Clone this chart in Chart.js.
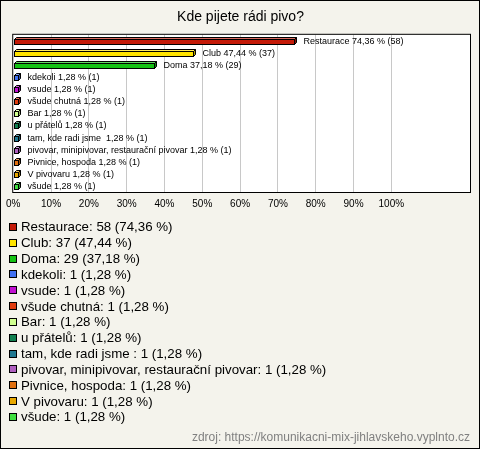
<!DOCTYPE html>
<html>
<head>
<meta charset="utf-8">
<script src="https://cdn.jsdelivr.net/npm/chart.js@4"></script>
<style>
  html, body { margin: 0; padding: 0; }
  body { width: 480px; height: 449px; position: relative; overflow: hidden; font-family: "Liberation Sans", Arial, sans-serif; }
  #chart { position: absolute; left: 0; top: 0; }
  .legend { position: absolute; left: 9px; top: 219px; }
  .legend .row { height: 15.83px; display: flex; align-items: center; font-size: 13.3px; color: #000; white-space: pre; }
  .legend .box { width: 8px; height: 8px; box-sizing: border-box; border: 1px solid #000; margin-right: 4px; flex: none; }
  .source { position: absolute; right: 10px; top: 430px; font-size: 12px; color: #808080; }
</style>
</head>
<body>
<canvas id="chart" width="480" height="449"></canvas>
<div class="legend" id="legend"></div>
<div class="source">zdroj: https://komunikacni-mix-jihlavskeho.vyplnto.cz</div>
<script>
// answers and counts
let labels = ["Restaurace", "Club", "Doma", "kdekoli", "vsude", "všude chutná", "Bar", "u přátelů", "tam, kde radi jsme ", "pivovar, minipivovar, restaurační pivovar", "Pivnice, hospoda", "V pivovaru", "všude"];
let counts = [58, 37, 29, 1, 1, 1, 1, 1, 1, 1, 1, 1, 1];
let percents = [74.36, 47.44, 37.18, 1.28, 1.28, 1.28, 1.28, 1.28, 1.28, 1.28, 1.28, 1.28, 1.28];
let colors = ["#c41a08", "#ffe400", "#14c214", "#4070f0", "#c010d0", "#e03c10", "#d0ff90", "#108050", "#207890", "#b060c0", "#e07010", "#e8a800", "#40e040"];
let tickLabels = ["0%", "10%", "20%", "30%", "40%", "50%", "60%", "70%", "80%", "90%", "100%"];

let fmt = (v) => v.toFixed(2).replace(".", ",");

//legend as html
let legend = document.getElementById("legend");
labels.forEach((l, i) => {
  let row = document.createElement("div");
  row.className = "row";
  row.innerHTML = `<span class="box" style="background:${colors[i]}"></span><span>${l}: ${counts[i]} (${fmt(percents[i])} %)</span>`;
  legend.appendChild(row);
});

let shade = (hex, f) => {
  let n = parseInt(hex.slice(1), 16);
  let r = (n >> 16) & 255, g = (n >> 8) & 255, b = n & 255;
  let m = (c) => Math.round(f > 0 ? c + (255 - c) * f : c * (1 + f));
  return `rgb(${m(r)},${m(g)},${m(b)})`;
};

//background, frame and 3d bars
let frame = {
  id: "frame",
  beforeDraw(chart) {
    let ctx = chart.ctx;
    let a = chart.chartArea;
    ctx.save();
    ctx.fillStyle = "#f4f3ec";
    ctx.fillRect(0, 0, chart.width, chart.height);
    ctx.strokeStyle = "#000";
    ctx.lineWidth = 1;
    ctx.strokeRect(0.5, 0.5, chart.width - 1, chart.height - 1);
    ctx.fillStyle = "#fff";
    ctx.fillRect(a.left, a.top, a.right - a.left, a.bottom - a.top);
    ctx.restore();
  },
  afterDraw(chart) {
    let ctx = chart.ctx;
    let a = chart.chartArea;
    ctx.save();
    ctx.strokeStyle = "#000";
    ctx.lineWidth = 1;
    ctx.strokeRect(a.left - 0.5, a.top - 0.5, a.right - a.left + 1, a.bottom - a.top + 1);

    let d = 2;
    chart.getDatasetMeta(0).data.forEach((bar, i) => {
      let x0 = Math.round(bar.base) + 0.5;
      let x1 = Math.round(bar.x) + 0.5;
      let top = Math.round(bar.y - bar.height / 2 + d / 2) + 0.5;
      let bottom = top + bar.height - 1;
      ctx.lineWidth = 1;
      ctx.strokeStyle = "#000";
      // top face
      ctx.beginPath();
      ctx.moveTo(x0, top);
      ctx.lineTo(x0 + d, top - d);
      ctx.lineTo(x1 + d, top - d);
      ctx.lineTo(x1, top);
      ctx.closePath();
      ctx.fillStyle = shade(colors[i], 0.35);
      ctx.fill();
      ctx.stroke();
      // side face
      ctx.beginPath();
      ctx.moveTo(x1, top);
      ctx.lineTo(x1 + d, top - d);
      ctx.lineTo(x1 + d, bottom - d);
      ctx.lineTo(x1, bottom);
      ctx.closePath();
      ctx.fillStyle = shade(colors[i], -0.3);
      ctx.fill();
      ctx.stroke();
      // front face
      ctx.fillStyle = colors[i];
      ctx.fillRect(x0, top, x1 - x0, bottom - top);
      ctx.strokeRect(x0, top, x1 - x0, bottom - top);

      ctx.fillStyle = "#000";
      ctx.font = "9px 'Liberation Sans', Arial, sans-serif";
      ctx.textBaseline = "middle";
      ctx.fillText(`${labels[i]} ${fmt(percents[i])} % (${counts[i]})`, x1 + d + 7, bar.y + 0.5);
    });
    ctx.restore();
  },
};

let chart = new Chart(document.getElementById("chart"), {
  type: "bar",
  data: {
    labels: labels,
    datasets: [
      {
        data: percents,
        backgroundColor: "rgba(0,0,0,0)",
        borderWidth: 0,
        barThickness: 6,
      },
    ],
  },
  plugins: [frame],
  options: {
    indexAxis: "y",
    responsive: false,
    animation: false,
    layout: { padding: { left: 11, right: 10, top: 9, bottom: 233 } },
    plugins: {
      legend: { display: false },
      tooltip: { enabled: false },
      title: {
        display: true,
        text: "Kde pijete rádi pivo?",
        color: "#000",
        font: { family: "'Liberation Sans', Arial, sans-serif", size: 14, weight: "normal" },
        padding: { top: 0, bottom: 9 },
      },
    },
    scales: {
      x: {
        min: 0,
        max: 120.8,
        border: { display: false },
        grid: {
          drawTicks: false,
          color: (c) => (c.tick && c.tick.value > 0 && c.tick.value <= 100 ? "#c8c8c8" : "rgba(0,0,0,0)"),
        },
        ticks: {
          stepSize: 10,
          padding: 6,
          color: "#000",
          maxRotation: 0,
          autoSkip: false,
          font: { family: "'Liberation Sans', Arial, sans-serif", size: 10 },
          callback: (v) => (v <= 100 && v % 10 === 0 ? tickLabels[v / 10] : ""),
        },
      },
      y: { display: false },
    },
  },
});
</script>
</body>
</html>
